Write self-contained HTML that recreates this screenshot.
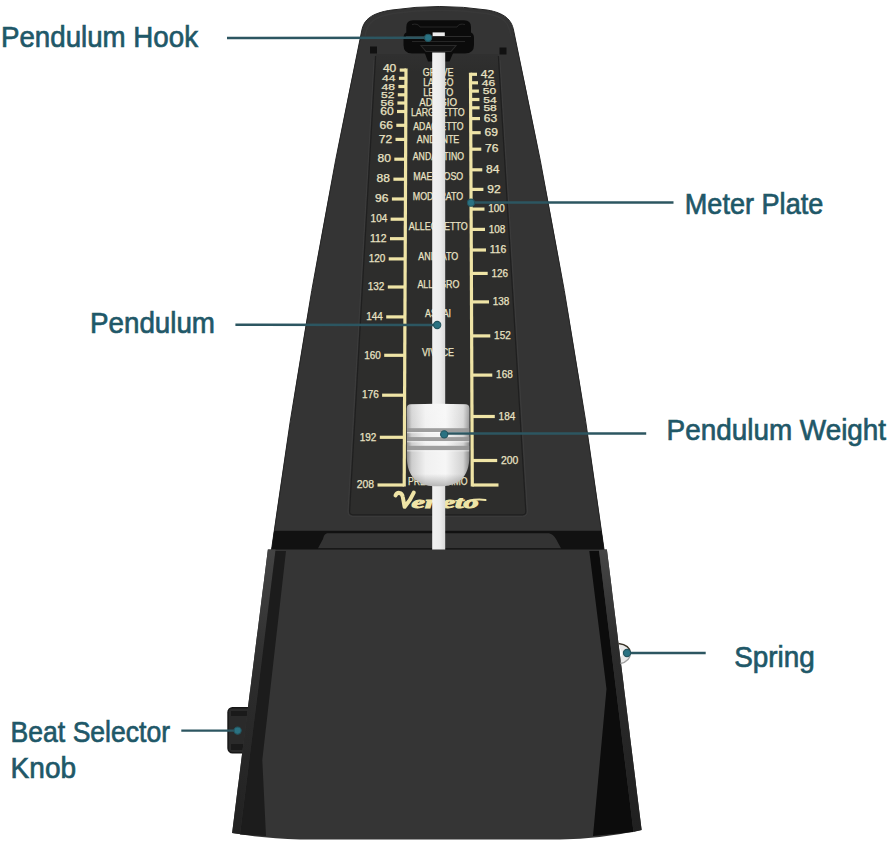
<!DOCTYPE html>
<html><head><meta charset="utf-8"><style>
html,body{margin:0;padding:0;background:#fff;}
svg{display:block;}
.l{font-family:"Liberation Sans",sans-serif;font-size:29.5px;fill:#1f5868;stroke:#1f5868;stroke-width:0.7px;}
.n{font-family:"Liberation Sans",sans-serif;font-size:10px;fill:#e9e2c4;stroke:#e9e2c4;stroke-width:0.25px;}
.s{font-size:9.4px;}
.c{font-family:"Liberation Sans",sans-serif;font-size:10px;fill:#e9e2c4;stroke:#e9e2c4;stroke-width:0.25px;}
</style></head><body>
<svg width="892" height="847" viewBox="0 0 892 847">
<defs>
<linearGradient id="wg" x1="0" x2="1" y1="0" y2="0">
<stop offset="0" stop-color="#8a8a8a"/><stop offset="0.08" stop-color="#cdcdcd"/><stop offset="0.3" stop-color="#f0f0f0"/>
<stop offset="0.62" stop-color="#f6f6f6"/><stop offset="0.9" stop-color="#d2d2d2"/><stop offset="1" stop-color="#8a8a8a"/></linearGradient>
<linearGradient id="wg2" x1="0" x2="0" y1="0" y2="1">
<stop offset="0" stop-color="#ffffff" stop-opacity="0.25"/><stop offset="0.55" stop-color="#ffffff" stop-opacity="0"/>
<stop offset="0.85" stop-color="#000000" stop-opacity="0.0"/><stop offset="1" stop-color="#000000" stop-opacity="0.25"/></linearGradient>
<linearGradient id="rimg" x1="0" x2="0" y1="0" y2="1">
<stop offset="0" stop-color="#444444"/><stop offset="0.45" stop-color="#2c2c2c"/><stop offset="1" stop-color="#222222"/></linearGradient>
<linearGradient id="rimg2" x1="0" x2="0" y1="0" y2="1">
<stop offset="0" stop-color="#464646"/><stop offset="0.35" stop-color="#2c2c2c"/><stop offset="1" stop-color="#202020"/></linearGradient>
<linearGradient id="plg" x1="0" x2="0" y1="54" y2="72" gradientUnits="userSpaceOnUse">
<stop offset="0" stop-color="#303030"/><stop offset="1" stop-color="#2d2d2c"/></linearGradient>
<linearGradient id="rodg" x1="0" x2="1" y1="0" y2="0">
<stop offset="0" stop-color="#f2f2f2"/><stop offset="0.6" stop-color="#ececec"/><stop offset="1" stop-color="#d9d9d9"/></linearGradient>
</defs>
<clipPath id="bodyclip"><path d="M271.2,552 Q307,290 361.9,30 C364,20 371,13 392,10 Q440,3 487,10 C505,13 511.5,20 513.5,30 Q569.6,290 604.4,552 Z"/></clipPath>
<path d="M271.2,552 Q307,290 361.9,30 C364,20 371,13 392,10 Q440,3 487,10 C505,13 511.5,20 513.5,30 Q569.6,290 604.4,552 Z" fill="#343434" stroke="#242424" stroke-width="1"/>
<path d="M375.6,54 L498.4,54 L525.8,511 Q526,514.8 522.5,514.8 L353,514.8 Q349.4,514.8 349.6,511 Z" fill="url(#plg)"/>
<path d="M374,60 L348,511 Q347.8,516.4 353,516.4 L522.5,516.4 Q527.6,516.4 527.4,511 L500,60" fill="none" stroke="#3c3c3c" stroke-width="1"/>
<path d="M375.6,56 L349.6,511 Q349.4,514.8 353,514.8 L522.5,514.8 Q526,514.8 525.8,511 L498.4,56" fill="none" stroke="#1f1f1f" stroke-width="1.2"/>
<path d="M413,20.2 L464,20.2 Q471,20.2 471,27 L471,32.5 Q474,33.5 474,38 L474,45 Q474,53.5 465,53.5 L412,53.5 Q403.5,53.5 403.5,45 L403.5,38 Q403.5,33.5 406.3,32.5 L406.3,27 Q406.3,20.2 413,20.2 Z" fill="#0b0b0b"/>
<path d="M412,24.5 Q418,23 420,27 L457,27 Q459,23 465,24.5" stroke="#262626" stroke-width="1" fill="none"/>
<path d="M406,36.5 L471,36.5" stroke="#2c2c2c" stroke-width="1.2"/>
<path d="M412,41.5 L465,41.5" stroke="#262626" stroke-width="1.2"/>
<path d="M423,48.5 L455,48.5 L449.5,61.4 L428,61.4 Z" fill="#0b0b0b"/>
<path d="M421,45.5 L456,45.5 L451,51.5 L426,51.5 Z" stroke="#2a2a2a" stroke-width="1.1" fill="#111"/>
<rect x="432.6" y="32.4" width="12.2" height="3.6" fill="#ececec"/>
<path d="M365,36 C367,24 373,17 393,13.5 Q440,7 486,13.5 C504,16.5 509,23 511,36" fill="none" stroke="#3a3a3a" stroke-width="1.4" opacity="0.7"/>
<rect x="370" y="46.5" width="7" height="7" fill="#111"/>
<rect x="499.5" y="47.5" width="7" height="7" fill="#111"/>
<g clip-path="url(#bodyclip)"><rect x="260" y="530.8" width="360" height="19.5" fill="#111111"/>
<path d="M327,533.2 L549,533.2 Q553,534 556,539 L561,548.3 L318,548.3 L323,539 Q324,534 327,533.2 Z" fill="#333333"/></g>
<path d="M406.0,68.5 L404.2,486.5" stroke="#efe4a6" stroke-width="3.2" fill="none"/>
<path d="M470.5,72.7 L472.3,486.5" stroke="#efe4a6" stroke-width="3.2" fill="none"/>
<path d="M399.7,70.1 L406.0,70.1" stroke="#efe4a6" stroke-width="3.2"/>
<text x="382.9" y="72.1" textLength="13.4" lengthAdjust="spacingAndGlyphs" class="n">40</text>
<path d="M398.9,78.3 L406.0,78.3" stroke="#efe4a6" stroke-width="3.2"/>
<text x="382.1" y="81.3" textLength="13.4" lengthAdjust="spacingAndGlyphs" class="n s">44</text>
<path d="M398.4,86.5 L405.9,86.5" stroke="#efe4a6" stroke-width="3.2"/>
<text x="381.6" y="89.5" textLength="13.4" lengthAdjust="spacingAndGlyphs" class="n s">48</text>
<path d="M397.8,94.8 L405.9,94.8" stroke="#efe4a6" stroke-width="3.2"/>
<text x="381.0" y="97.8" textLength="13.4" lengthAdjust="spacingAndGlyphs" class="n s">52</text>
<path d="M397.4,103.0 L405.9,103.0" stroke="#efe4a6" stroke-width="3.2"/>
<text x="380.6" y="106.0" textLength="13.4" lengthAdjust="spacingAndGlyphs" class="n s">56</text>
<path d="M397.0,111.5 L405.8,111.5" stroke="#efe4a6" stroke-width="3.2"/>
<text x="380.2" y="114.7" textLength="13.4" lengthAdjust="spacingAndGlyphs" class="n">60</text>
<path d="M396.3,125.3 L405.8,125.3" stroke="#efe4a6" stroke-width="3.2"/>
<text x="379.5" y="128.5" textLength="13.4" lengthAdjust="spacingAndGlyphs" class="n">66</text>
<path d="M395.5,139.4 L405.7,139.4" stroke="#efe4a6" stroke-width="3.2"/>
<text x="378.7" y="142.6" textLength="13.4" lengthAdjust="spacingAndGlyphs" class="n">72</text>
<path d="M394.3,159.2 L405.6,159.2" stroke="#efe4a6" stroke-width="3.2"/>
<text x="377.5" y="162.4" textLength="13.4" lengthAdjust="spacingAndGlyphs" class="n">80</text>
<path d="M393.4,179.2 L405.5,179.2" stroke="#efe4a6" stroke-width="3.2"/>
<text x="376.6" y="182.4" textLength="13.4" lengthAdjust="spacingAndGlyphs" class="n">88</text>
<path d="M391.9,199.0 L405.4,199.0" stroke="#efe4a6" stroke-width="3.2"/>
<text x="375.1" y="202.2" textLength="13.4" lengthAdjust="spacingAndGlyphs" class="n">96</text>
<path d="M390.6,219.2 L405.4,219.2" stroke="#efe4a6" stroke-width="3.2"/>
<text x="370.6" y="222.4" textLength="16.6" lengthAdjust="spacingAndGlyphs" class="n">104</text>
<path d="M390.0,238.7 L405.3,238.7" stroke="#efe4a6" stroke-width="3.2"/>
<text x="370.0" y="241.9" textLength="16.6" lengthAdjust="spacingAndGlyphs" class="n">112</text>
<path d="M388.7,258.9 L405.2,258.9" stroke="#efe4a6" stroke-width="3.2"/>
<text x="368.7" y="262.1" textLength="16.6" lengthAdjust="spacingAndGlyphs" class="n">120</text>
<path d="M387.8,287.0 L405.1,287.0" stroke="#efe4a6" stroke-width="3.2"/>
<text x="367.8" y="290.2" textLength="16.6" lengthAdjust="spacingAndGlyphs" class="n">132</text>
<path d="M386.2,316.9 L404.9,316.9" stroke="#efe4a6" stroke-width="3.2"/>
<text x="366.2" y="320.1" textLength="16.6" lengthAdjust="spacingAndGlyphs" class="n">144</text>
<path d="M384.2,355.3 L404.8,355.3" stroke="#efe4a6" stroke-width="3.2"/>
<text x="364.2" y="358.5" textLength="16.6" lengthAdjust="spacingAndGlyphs" class="n">160</text>
<path d="M382.1,395.2 L404.6,395.2" stroke="#efe4a6" stroke-width="3.2"/>
<text x="362.1" y="398.4" textLength="16.6" lengthAdjust="spacingAndGlyphs" class="n">176</text>
<path d="M379.8,437.3 L404.4,437.3" stroke="#efe4a6" stroke-width="3.2"/>
<text x="359.8" y="440.5" textLength="16.6" lengthAdjust="spacingAndGlyphs" class="n">192</text>
<path d="M377.5,485.0 L404.2,485.0" stroke="#efe4a6" stroke-width="3.2"/>
<text x="356.8" y="488.2" textLength="17.3" lengthAdjust="spacingAndGlyphs" class="n">208</text>
<path d="M470.5,74.3 L477.0,74.3" stroke="#efe4a6" stroke-width="3.2"/>
<text x="480.8" y="77.5" textLength="13.4" lengthAdjust="spacingAndGlyphs" class="n">42</text>
<path d="M470.5,82.8 L478.0,82.8" stroke="#efe4a6" stroke-width="3.2"/>
<text x="481.8" y="85.8" textLength="13.4" lengthAdjust="spacingAndGlyphs" class="n s">46</text>
<path d="M470.6,91.1 L478.9,91.1" stroke="#efe4a6" stroke-width="3.2"/>
<text x="482.7" y="94.1" textLength="13.4" lengthAdjust="spacingAndGlyphs" class="n s">50</text>
<path d="M470.6,99.5 L479.4,99.5" stroke="#efe4a6" stroke-width="3.2"/>
<text x="483.2" y="102.5" textLength="13.4" lengthAdjust="spacingAndGlyphs" class="n s">54</text>
<path d="M470.7,107.8 L479.6,107.8" stroke="#efe4a6" stroke-width="3.2"/>
<text x="483.4" y="110.8" textLength="13.4" lengthAdjust="spacingAndGlyphs" class="n s">58</text>
<path d="M470.7,118.6 L480.0,118.6" stroke="#efe4a6" stroke-width="3.2"/>
<text x="483.8" y="121.8" textLength="13.4" lengthAdjust="spacingAndGlyphs" class="n">63</text>
<path d="M470.8,132.7 L480.7,132.7" stroke="#efe4a6" stroke-width="3.2"/>
<text x="484.5" y="135.9" textLength="13.4" lengthAdjust="spacingAndGlyphs" class="n">69</text>
<path d="M470.8,149.2 L481.3,149.2" stroke="#efe4a6" stroke-width="3.2"/>
<text x="485.1" y="152.4" textLength="13.4" lengthAdjust="spacingAndGlyphs" class="n">76</text>
<path d="M470.9,169.8 L482.3,169.8" stroke="#efe4a6" stroke-width="3.2"/>
<text x="486.1" y="173.0" textLength="13.4" lengthAdjust="spacingAndGlyphs" class="n">84</text>
<path d="M471.0,189.4 L483.4,189.4" stroke="#efe4a6" stroke-width="3.2"/>
<text x="487.2" y="192.6" textLength="13.4" lengthAdjust="spacingAndGlyphs" class="n">92</text>
<path d="M471.1,209.1 L484.5,209.1" stroke="#efe4a6" stroke-width="3.2"/>
<text x="488.3" y="212.3" textLength="16.6" lengthAdjust="spacingAndGlyphs" class="n">100</text>
<path d="M471.2,229.4 L485.0,229.4" stroke="#efe4a6" stroke-width="3.2"/>
<text x="488.8" y="232.6" textLength="16.6" lengthAdjust="spacingAndGlyphs" class="n">108</text>
<path d="M471.3,250.0 L486.0,250.0" stroke="#efe4a6" stroke-width="3.2"/>
<text x="489.8" y="253.2" textLength="16.6" lengthAdjust="spacingAndGlyphs" class="n">116</text>
<path d="M471.4,273.4 L487.7,273.4" stroke="#efe4a6" stroke-width="3.2"/>
<text x="491.5" y="276.6" textLength="16.6" lengthAdjust="spacingAndGlyphs" class="n">126</text>
<path d="M471.5,301.9 L489.0,301.9" stroke="#efe4a6" stroke-width="3.2"/>
<text x="492.8" y="305.1" textLength="16.6" lengthAdjust="spacingAndGlyphs" class="n">138</text>
<path d="M471.6,335.9 L490.3,335.9" stroke="#efe4a6" stroke-width="3.2"/>
<text x="494.1" y="339.1" textLength="16.6" lengthAdjust="spacingAndGlyphs" class="n">152</text>
<path d="M471.8,375.1 L492.3,375.1" stroke="#efe4a6" stroke-width="3.2"/>
<text x="496.1" y="378.3" textLength="16.6" lengthAdjust="spacingAndGlyphs" class="n">168</text>
<path d="M472.0,416.5 L494.8,416.5" stroke="#efe4a6" stroke-width="3.2"/>
<text x="498.6" y="419.7" textLength="16.6" lengthAdjust="spacingAndGlyphs" class="n">184</text>
<path d="M472.2,460.5 L497.2,460.5" stroke="#efe4a6" stroke-width="3.2"/>
<text x="501.0" y="463.7" textLength="17.3" lengthAdjust="spacingAndGlyphs" class="n">200</text>
<path d="M472.3,485 L498.5,485" stroke="#efe4a6" stroke-width="3.2"/>
<text x="422.7" y="75.9" textLength="30.7" lengthAdjust="spacingAndGlyphs" class="c">GRAVE</text>
<text x="423.3" y="85.9" textLength="30.1" lengthAdjust="spacingAndGlyphs" class="c">LARGO</text>
<text x="423.3" y="95.9" textLength="30.1" lengthAdjust="spacingAndGlyphs" class="c">LENTO</text>
<text x="419.2" y="106.0" textLength="37.8" lengthAdjust="spacingAndGlyphs" class="c">ADAGIO</text>
<text x="410.9" y="116.0" textLength="53.7" lengthAdjust="spacingAndGlyphs" class="c">LARGHETTO</text>
<text x="413.3" y="130.2" textLength="50.1" lengthAdjust="spacingAndGlyphs" class="c">ADAGIETTO</text>
<text x="416.8" y="143.1" textLength="42.5" lengthAdjust="spacingAndGlyphs" class="c">ANDANTE</text>
<text x="412.8" y="160.1" textLength="51.3" lengthAdjust="spacingAndGlyphs" class="c">ANDANTINO</text>
<text x="413.2" y="179.7" textLength="50.0" lengthAdjust="spacingAndGlyphs" class="c">MAESTOSO</text>
<text x="412.8" y="199.7" textLength="50.4" lengthAdjust="spacingAndGlyphs" class="c">MODERATO</text>
<text x="408.8" y="229.7" textLength="58.9" lengthAdjust="spacingAndGlyphs" class="c">ALLEGRETTO</text>
<text x="418.3" y="260.1" textLength="39.9" lengthAdjust="spacingAndGlyphs" class="c">ANIMATO</text>
<text x="417.4" y="288.0" textLength="42.1" lengthAdjust="spacingAndGlyphs" class="c">ALLEGRO</text>
<text x="425.0" y="317.2" textLength="26.0" lengthAdjust="spacingAndGlyphs" class="c">ASSAI</text>
<text x="421.9" y="355.9" textLength="32.2" lengthAdjust="spacingAndGlyphs" class="c">VIVACE</text>
<text x="408.0" y="485.0" textLength="59.5" lengthAdjust="spacingAndGlyphs" class="c">PRESTISSIMO</text>
<path d="M395.5,495.5 C397,491.8 402,491.8 402.8,497 L404.6,506.8 C408,503 411.5,498 413.8,492.5" stroke="#efe4a6" stroke-width="4" fill="none" stroke-linecap="round" stroke-linejoin="round"/>
<text x="411.5" y="507.8" textLength="67" lengthAdjust="spacingAndGlyphs" style="font-family:'Liberation Serif',serif;font-style:italic;font-weight:bold;font-size:17px;stroke:#efe4a6;stroke-width:0.9px" fill="#efe4a6">eneto</text>
<path d="M468,501 Q477,498.8 485.5,500" stroke="#efe4a6" stroke-width="2" fill="none" stroke-linecap="round"/>
<rect x="432.2" y="52.5" width="13" height="498" fill="url(#rodg)"/>
<path d="M406.8,408.5 Q406.8,404.3 411,404.3 Q438,403.2 465.2,404.3 Q469.4,404.3 469.4,408.5 L469.4,456 C469.4,478 458,486.3 438.1,486.3 C418.2,486.3 406.8,478 406.8,456 Z" fill="url(#wg)"/>
<path d="M406.8,408.5 Q406.8,404.3 411,404.3 Q438,403.2 465.2,404.3 Q469.4,404.3 469.4,408.5 L469.4,456 C469.4,478 458,486.3 438.1,486.3 C418.2,486.3 406.8,478 406.8,456 Z" fill="url(#wg2)"/>
<rect x="407" y="428.2" width="62.2" height="3.8" fill="#959595" opacity="0.9"/>
<rect x="407" y="432" width="62.2" height="1.2" fill="#ffffff" opacity="0.5"/>
<rect x="407" y="437.1" width="62.2" height="4.0" fill="#959595" opacity="0.9"/>
<rect x="407" y="441.1" width="62.2" height="1.2" fill="#ffffff" opacity="0.5"/>
<rect x="407" y="445.8" width="62.2" height="4.4" fill="#959595" opacity="0.9"/>
<rect x="407" y="450.2" width="62.2" height="1.2" fill="#ffffff" opacity="0.5"/>
<rect x="228" y="707.8" width="26" height="45" rx="4.5" fill="#2a2a2a" stroke="#161616" stroke-width="1.4"/>
<rect x="231" y="711" width="22" height="5" fill="#1a1a1a"/>
<rect x="231" y="744" width="22" height="6" fill="#1a1a1a"/>
<path d="M267.9,549.5 L606.9,549.5 L641.6,830 Q600,839 560,839.5 L300,839.5 Q260,838 232.1,833 Z" fill="#353535"/>
<path d="M267.9,549.5 L275.5,549.5 L240,834 L232.1,833 Z" fill="url(#rimg)"/>
<path d="M275.5,551 L286,551 L262.3,760 L266,836 L240,834.5 Z" fill="#1c1c1c"/>
<path d="M589.3,551 L599,551 L633.5,832 L593,836 L606.5,689 Z" fill="#0c0c0c"/>
<path d="M599,550 L606.9,549.5 L641.6,830 L633.5,832 Z" fill="url(#rimg2)"/>
<path d="M619,643.5 Q630,645 630.5,653 Q630,661.5 620.5,663.5 L621,657 Q624,653 619.5,648 Z" fill="#d8d8d8" opacity="0.55"/>
<path d="M618.5,643.5 Q630,645 630.5,653" stroke="#3a3428" stroke-width="1.3" fill="none"/>
<path d="M630.5,653 Q630,661.5 620.5,663.5" stroke="#a0a0a0" stroke-width="1.4" fill="none"/>
<path d="M227,38 L428.1,37.8" stroke="#2c5661" stroke-width="2.4"/>
<path d="M235.4,324.8 L437.2,325" stroke="#2c5661" stroke-width="2.4"/>
<path d="M473,202.5 L673.5,202.5" stroke="#2c5661" stroke-width="2.4"/>
<path d="M444.2,433.5 L646.2,433.5" stroke="#2c5661" stroke-width="2.4"/>
<path d="M627,653 L705.7,653" stroke="#2c5661" stroke-width="2.4"/>
<path d="M181.3,730.6 L237.6,730.6" stroke="#2c5661" stroke-width="2.4"/>
<circle cx="428.1" cy="37.8" r="3.6" fill="#2a7282" stroke="#23545e" stroke-width="1.1"/>
<circle cx="437.2" cy="325" r="3.6" fill="#2a7282" stroke="#23545e" stroke-width="1.1"/>
<circle cx="471" cy="202.7" r="3.6" fill="#2a7282" stroke="#23545e" stroke-width="1.1"/>
<circle cx="444.2" cy="434.4" r="3.6" fill="#2a7282" stroke="#23545e" stroke-width="1.1"/>
<circle cx="627" cy="653" r="3.6" fill="#2a7282" stroke="#23545e" stroke-width="1.1"/>
<circle cx="237.6" cy="730.6" r="3.6" fill="#2a7282" stroke="#23545e" stroke-width="1.1"/>
<text x="1.0" y="46.6" textLength="197" lengthAdjust="spacingAndGlyphs" class="l">Pendulum Hook</text>
<text x="684.8" y="214" textLength="138.5" lengthAdjust="spacingAndGlyphs" class="l">Meter Plate</text>
<text x="90.0" y="332.9" textLength="125" lengthAdjust="spacingAndGlyphs" class="l">Pendulum</text>
<text x="666.6" y="439.5" textLength="219.5" lengthAdjust="spacingAndGlyphs" class="l">Pendulum Weight</text>
<text x="734.2" y="666.8" textLength="80.5" lengthAdjust="spacingAndGlyphs" class="l">Spring</text>
<text x="10.6" y="741.7" textLength="159.5" lengthAdjust="spacingAndGlyphs" class="l">Beat Selector</text>
<text x="10.6" y="777.9" textLength="65.5" lengthAdjust="spacingAndGlyphs" class="l">Knob</text>
</svg>
</body></html>
